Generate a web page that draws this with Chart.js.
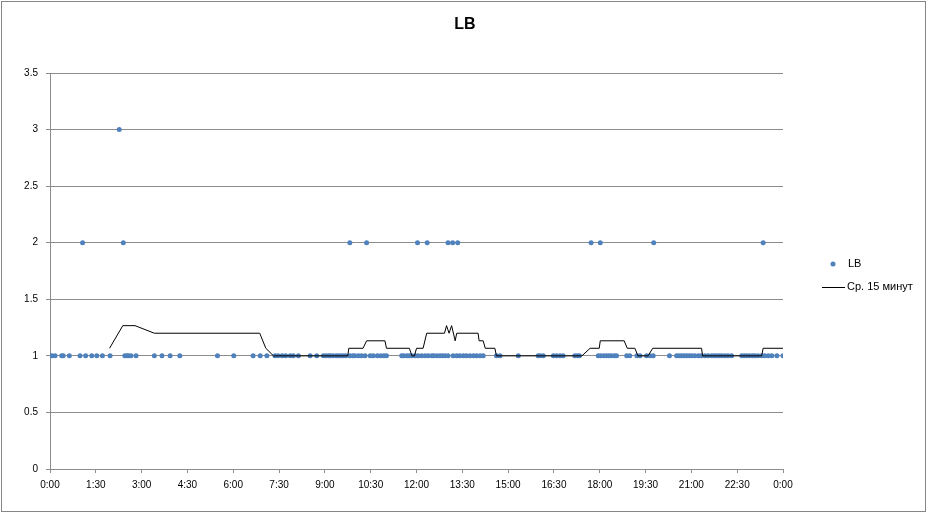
<!DOCTYPE html>
<html>
<head>
<meta charset="utf-8">
<title>LB</title>
<script src="https://cdn.jsdelivr.net/npm/chart.js@4/dist/chart.umd.min.js"></script>
<style>
  html, body { margin: 0; padding: 0; background: #fff; }
  #wrap { position: relative; width: 930px; height: 514px; }
</style>
</head>
<body>
<div id="wrap"><canvas id="lb-chart" width="930" height="514"></canvas></div>
<script>
// LB readings over one day, plus the 15-minute average line.

// minutes since 0:00 for each LB reading, grouped by level
const lbLevels = [1, 2, 3];
const lbTimesByLevel = [
  [0, 4, 10, 23, 26, 38, 59, 70, 82, 92, 103, 118, 147, 151, 154, 159, 169, 205, 220, 236,
   255, 329, 361, 399, 413, 426, 442, 448, 456, 463, 472, 478, 488, 511, 524, 537, 542, 547,
   551, 556, 562, 566, 571, 576, 581, 589, 595, 599, 606, 612, 619, 629, 635, 643, 650, 656,
   661, 691, 695, 701, 706, 711, 717, 723, 730, 737, 743, 750, 754, 760, 766, 771, 776, 782,
   792, 799, 805, 812, 818, 825, 832, 838, 845, 851, 877, 884, 920, 959, 963, 969, 989, 995,
   1002, 1008, 1031, 1036, 1040, 1077, 1082, 1088, 1093, 1098, 1103, 1109, 1113, 1133, 1139,
   1153, 1159, 1172, 1179, 1185, 1217, 1231, 1236, 1241, 1246, 1251, 1256, 1261, 1267, 1274,
   1280, 1287, 1293, 1300, 1305, 1310, 1315, 1320, 1326, 1332, 1339, 1359, 1364, 1369, 1374,
   1380, 1385, 1391, 1398, 1404, 1411, 1418, 1428, 1440],
  [64, 144, 589, 622, 722, 741, 782, 791, 801, 1063, 1081, 1186, 1401],
  [136]
];

// 15-minute average (Ср. 15 минут)
const avgTimes = [117, 143, 167, 205, 412, 424, 439, 585, 587, 615, 622, 658, 661, 706, 711,
  716, 720, 733, 740, 775, 779, 784, 789, 796, 799, 841, 843, 851, 855, 874, 877, 1045, 1061,
  1079, 1081, 1128, 1134, 1149, 1155, 1175, 1184, 1280, 1282, 1398, 1401, 1440];
const avgValues = [1.067, 1.267, 1.267, 1.2, 1.2, 1.067, 1, 1, 1.067, 1.067, 1.133, 1.133,
  1.067, 1.067, 1, 1, 1.067, 1.067, 1.2, 1.2, 1.267, 1.2, 1.267, 1.133, 1.2, 1.2, 1.133,
  1.133, 1.067, 1.067, 1, 1, 1.067, 1.067, 1.133, 1.133, 1.067, 1.067, 1, 1, 1.067, 1.067,
  1, 1, 1.067, 1.067];

const chartTitle = 'LB';
const legendLabels = ['LB', 'Ср. 15 минут'];

const X_MAX = 1440;
const X_STEP = 90;
const BLUE = '#4f81bd';
const GRID = '#8c8c8c';
const FONT = '"Liberation Sans", Arial, sans-serif';

function formatTime(min) {
  const m = min % 1440;
  const h = Math.floor(m / 60);
  const mm = m % 60;
  return `${h}:${mm < 10 ? '0' : ''}${mm}`;
}

function buildLbPoints() {
  const pts = [];
  lbLevels.forEach((level, i) => {
    lbTimesByLevel[i].forEach(t => pts.push({ x: t, y: level }));
  });
  return pts.sort((a, b) => a.x - b.x);
}

const avgPoints = avgTimes.map((t, i) => ({ x: t, y: avgValues[i] }));

// frame, title (centred on the whole chart) and the legend on the right
const frameTitleLegend = {
  id: 'frameTitleLegend',
  afterDraw(chart) {
    const ctx = chart.ctx;
    const area = chart.chartArea;
    ctx.save();
    ctx.strokeStyle = '#868686';
    ctx.lineWidth = 1;
    ctx.strokeRect(1.5, 1.5, 924, 510);

    ctx.fillStyle = '#000';
    ctx.font = `bold 16px ${FONT}`;
    ctx.textAlign = 'center';
    ctx.textBaseline = 'middle';
    ctx.fillText(chartTitle, chart.width / 2, 25);

    const yMid = (area.top + area.bottom) / 2;
    const x0 = area.right + 39;
    const y1 = yMid - 7;
    const y2 = yMid + 16;

    ctx.fillStyle = BLUE;
    ctx.beginPath();
    ctx.arc(x0 + 11, y1, 2.5, 0, Math.PI * 2);
    ctx.fill();

    ctx.strokeStyle = '#000';
    ctx.beginPath();
    ctx.moveTo(x0, y2 + 0.5);
    ctx.lineTo(x0 + 23, y2 + 0.5);
    ctx.stroke();

    ctx.fillStyle = '#000';
    ctx.font = `11px ${FONT}`;
    ctx.textAlign = 'left';
    ctx.fillText(legendLabels[0], x0 + 26, y1);
    ctx.fillText(legendLabels[1], x0 + 25, y2);
    ctx.restore();
  }
};

new Chart(document.getElementById('lb-chart'), {
  type: 'scatter',
  data: {
    datasets: [
      {
        label: legendLabels[0],
        data: buildLbPoints(),
        backgroundColor: BLUE,
        borderColor: BLUE,
        pointRadius: 2.5,
        pointBorderWidth: 0,
        order: 2,
      },
      {
        label: legendLabels[1],
        data: avgPoints,
        showLine: true,
        borderColor: '#000',
        backgroundColor: '#000',
        borderWidth: 1,
        pointRadius: 0,
        tension: 0,
        order: 1,
      }
    ]
  },
  options: {
    responsive: false,
    animation: false,
    layout: { padding: { top: 73, left: 0, right: 147, bottom: 0 } },
    plugins: {
      legend: { display: false },
      tooltip: { enabled: false },
      title: { display: false }
    },
    scales: {
      x: {
        type: 'linear',
        min: 0,
        max: X_MAX,
        afterFit(scale) { scale.height = 45; },
        ticks: {
          stepSize: X_STEP,
          autoSkip: false,
          maxRotation: 0,
          color: '#000',
          padding: 6,
          font: { family: FONT, size: 10 },
          callback: v => formatTime(v)
        },
        grid: { drawOnChartArea: false, color: GRID, tickLength: 4 },
        border: { color: GRID }
      },
      y: {
        min: 0,
        max: 3.5,
        afterFit(scale) { scale.width = 50; },
        ticks: {
          stepSize: 0.5,
          color: '#000',
          padding: 8,
          font: { family: FONT, size: 10 },
          callback: v => String(v)
        },
        grid: { color: GRID, tickLength: 4 },
        border: { color: GRID }
      }
    }
  },
  plugins: [frameTitleLegend]
});
</script>
</body>
</html>
